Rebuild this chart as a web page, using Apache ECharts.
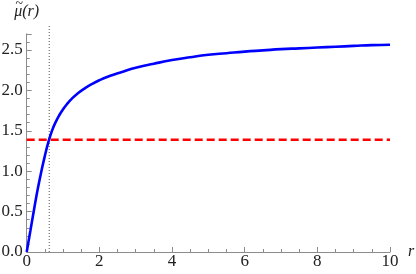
<!DOCTYPE html>
<html>
<head>
<meta charset="utf-8">
<script src="https://cdn.jsdelivr.net/npm/echarts@6/dist/echarts.min.js"></script>
<style>
html,body{margin:0;padding:0;background:#fff;}
#chart{width:416px;height:274px;}
</style>
</head>
<body>
<div id="chart"></div>
<script>
// Blue curve: r values and mu~(r) values
var curveR  = [0, 0.1, 0.2, 0.3, 0.4, 0.5, 0.6, 0.7, 0.8, 0.9, 1.0, 1.1, 1.25, 1.4, 1.6, 1.8, 2.0, 2.3, 2.6, 3.0, 3.5, 4.0, 4.5, 5.0, 5.5, 6.0, 6.5, 7.0, 7.5, 8.0, 8.5, 9.0, 9.5, 10.0];
var curveMu = [0, 0.26, 0.52, 0.77, 0.99, 1.19, 1.365, 1.505, 1.61, 1.695, 1.765, 1.825, 1.90, 1.96, 2.025, 2.08, 2.125, 2.18, 2.225, 2.28, 2.33, 2.375, 2.41, 2.44, 2.46, 2.48, 2.495, 2.51, 2.52, 2.53, 2.54, 2.55, 2.56, 2.565];
// Red dashed horizontal level
var levelMu = 1.39;
var levelR = [0, 10];
// Vertical dotted line at the crossing
var crossR = 0.62;
var crossMu = [0, 2.81];
// Axis settings
var xTickLabels = ['0', '2', '4', '6', '8', '10'];
var yTickLabels = ['0.0', '0.5', '1.0', '1.5', '2.0', '2.5'];
var xName = 'r';
var yNameMain = 'μ(r)';
var yNameAccent = '~';

var curveData = curveR.map(function (r, i) { return [r, curveMu[i]]; });
var levelData = levelR.map(function (r) { return [r, levelMu]; });
var crossData = crossMu.map(function (m) { return [crossR, m]; });

var axisGray = '#8c8c8c';
var labelFont = "'Liberation Serif', 'DejaVu Serif', serif";

var chart = echarts.init(document.getElementById('chart'), null, {renderer: 'canvas'});
chart.setOption({
  animation: false,
  backgroundColor: '#fff',
  textStyle: {fontFamily: labelFont},
  grid: {left: 26.7, right: 26, top: 33.8, bottom: 22, containLabel: false, outerBoundsMode: 'none'},
  xAxis: {
    type: 'value', min: 0, max: 10, interval: 2,
    name: xName, nameLocation: 'end', nameGap: 18,
    nameTextStyle: {fontFamily: labelFont, fontStyle: 'italic', fontSize: 16, color: '#222', verticalAlign: 'middle', align: 'left', padding: [0, 0, 2, 0]},
    axisLine: {show: true, onZero: false, lineStyle: {color: axisGray, width: 1}},
    axisTick: {show: true, inside: true, length: 5, lineStyle: {color: axisGray}},
    minorTick: {show: true, splitNumber: 4, length: 3, lineStyle: {color: axisGray}},
    splitLine: {show: false},
    axisLabel: {margin: 1, fontFamily: labelFont, fontSize: 17, color: '#222',
      formatter: function (v) { var i = Math.round(v / 2); return (Math.abs(v - i * 2) < 1e-6) ? xTickLabels[i] : ''; }}
  },
  yAxis: {
    type: 'value', min: 0, max: 2.7, interval: 0.5,
    name: '{t|' + yNameAccent + '}\n{m|' + yNameMain + '}', nameLocation: 'end', nameGap: 16,
    nameTextStyle: {
      fontFamily: labelFont, fontStyle: 'italic', fontSize: 16, color: '#222', align: 'center',
      rich: {
        t: {fontFamily: labelFont, fontSize: 14, color: '#222', lineHeight: 2, align: 'left', padding: [0, 0, 0, 1]},
        m: {fontFamily: labelFont, fontStyle: 'italic', fontSize: 16, color: '#222', lineHeight: 12}
      }
    },
    axisLine: {show: true, onZero: false, lineStyle: {color: axisGray, width: 1}},
    axisTick: {show: true, inside: true, length: 5, lineStyle: {color: axisGray}},
    minorTick: {show: true, splitNumber: 5, length: 3, lineStyle: {color: axisGray}},
    splitLine: {show: false},
    axisLabel: {margin: 4, fontFamily: labelFont, fontSize: 17, color: '#222', showMaxLabel: false,
      formatter: function (v) { var i = Math.round(v / 0.5); return (Math.abs(v - i * 0.5) < 1e-6 && i < yTickLabels.length) ? yTickLabels[i] : ''; }}
  },
  series: [
    {
      type: 'line', data: crossData, symbol: 'none', clip: false, silent: true,
      lineStyle: {color: '#555', width: 1, type: [1, 2]}
    },
    {
      type: 'line', data: levelData, symbol: 'none', silent: true,
      lineStyle: {color: '#ff0000', width: 2.5, type: [8, 4]}
    },
    {
      type: 'line', data: curveData, symbol: 'none', smooth: true, silent: true,
      lineStyle: {color: '#0000ff', width: 2.6}
    }
  ]
});
</script>
</body>
</html>
